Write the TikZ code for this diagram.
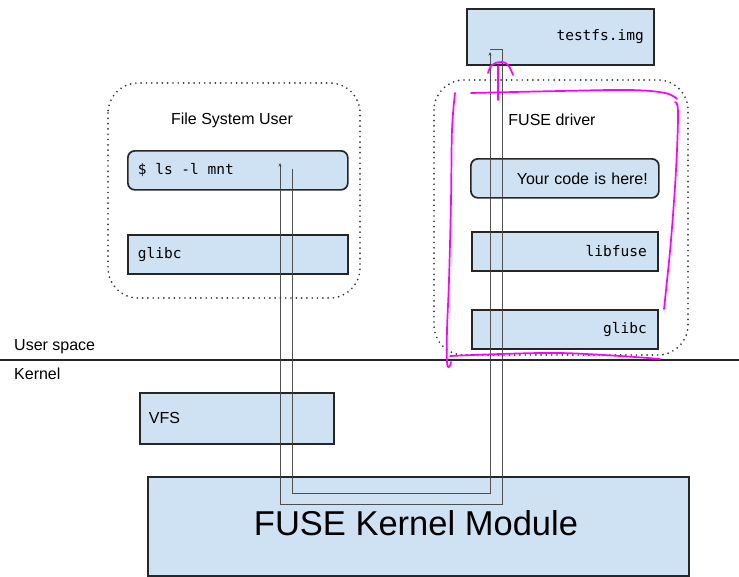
\documentclass[tikz,border=0pt]{standalone}
\usepackage{fontspec}
\setmainfont{Liberation Sans}
\newfontfamily\monof{DejaVu Sans Mono}
\usetikzlibrary{arrows.meta}
\definecolor{boxfill}{HTML}{CFE2F3}
\definecolor{boxline}{HTML}{262626}
\definecolor{pen}{HTML}{FF00FF}
\newcommand\mymonofont{\monof\fontsize{14.5}{17}\selectfont}
\newcommand\msp{\char32\relax}
\tikzset{
  box/.style={draw=boxline, line width=1.7pt, fill=boxfill, anchor=north west, inner ysep=0pt, inner xsep=10pt},
  rbox/.style={box, rounded corners=7pt},
  monotext/.style={font=\mymonofont},
  sanstext/.style={font=\fontsize{16}{19}\selectfont},
  dotbox/.style={draw=black!80, line width=1.9pt, line cap=round, dash pattern=on 0pt off 5.3pt, rounded corners=30pt},
  wire/.style={draw=black!75, draw opacity=0.9, line width=0.9pt},
  wiretip/.style={wire, -{Stealth[length=3.5pt,width=3pt]}},
  ink/.style={draw=pen, line width=1.7pt, line cap=round, line join=round},
}
\begin{document}
\begin{tikzpicture}[x=1pt,y=-1pt]
\useasboundingbox (0,0) rectangle (739,576);
\fill[white] (0,0) rectangle (739,576);

% dotted groups
\draw[dotbox] (108,83) rectangle (360,298);
\draw[dotbox] (434,80) rectangle (688,355);
\node[sanstext] (fsu) at (232,120) {File System User};
\node[sanstext] (fdrv) at (552,120) {FUSE driver};

% user side boxes
\node[rbox, monotext, minimum width=220pt, minimum height=39pt, text width=200pt, align=left] (ls) at (127,150) {\$\msp ls\msp -l\msp mnt};
\node[box, monotext, minimum width=220pt, minimum height=39pt, text width=200pt, align=left] (glibcL) at (127,234) {glibc};

% driver side boxes
\node[box, monotext, minimum width=187pt, minimum height=56pt, text width=167pt, align=right] (img) at (466,8) {testfs.img};
\node[rbox, sanstext, minimum width=188pt, minimum height=39pt, text width=166pt, align=right, inner xsep=11pt] (code) at (470,158) {Your code is here!};
\node[box, monotext, minimum width=186pt, minimum height=39pt, text width=164pt, align=right, inner xsep=11pt] (libfuse) at (471,231) {libfuse};
\node[box, monotext, minimum width=186pt, minimum height=39pt, text width=164pt, align=right, inner xsep=11pt] (glibcR) at (471,309) {glibc};

% user/kernel line
\coordinate (sepL) at (0,360);
\coordinate (sepR) at (739,360);
\draw[black!85, line width=1.4pt] (sepL) -- (sepR);
\node[sanstext, anchor=west, inner sep=0pt] (us) at (14,347) {User space};
\node[sanstext, anchor=west, inner sep=0pt] (kern) at (14,374) {Kernel};

% kernel boxes
\node[box, sanstext, minimum width=194pt, minimum height=51pt, text width=176pt, align=left, inner xsep=9pt] (vfs) at (139,392) {VFS};
\node[box, minimum width=541pt, minimum height=99pt] (fkm) at (147,476) {};
\node[font=\fontsize{34.5}{40}\selectfont] (fkmt) at (416,523) {FUSE Kernel Module};

% connectors
\coordinate (reqS) at (292,169);
\coordinate (reqE) at (490,52);
\coordinate (repS) at (490,49);
\coordinate (repE) at (280,163);
\draw[wiretip] (reqS) -- (reqS |- 0,493) -- (reqE |- 0,493) -- (reqE);
\draw[wiretip] (repS) -- (502,49) -- (502,504) -- (repE |- 0,504) -- (repE);

% magenta annotations
\draw[ink] plot[smooth, tension=0.6] coordinates {(471,93) (560,91) (630,90) (665,93) (677,99)};
\draw[ink] plot[smooth, tension=0.6] coordinates {(675,102) (678,112) (676,170) (671,240) (666,290) (664,309)};
\draw[ink] plot[smooth, tension=0.6] coordinates {(455,93) (452,130) (451,200) (449,280) (447,330) (447,362) (449,367) (451,362)};
\draw[ink] plot[smooth, tension=0.6] coordinates {(450,356) (500,354) (560,353) (620,356) (660,359)};
\draw[ink] (498,100) -- (498,66);
\draw[ink] plot[smooth, tension=0.7] coordinates {(488,73) (492,65) (501,62) (508,65) (513,75)};
\end{tikzpicture}
\end{document}
